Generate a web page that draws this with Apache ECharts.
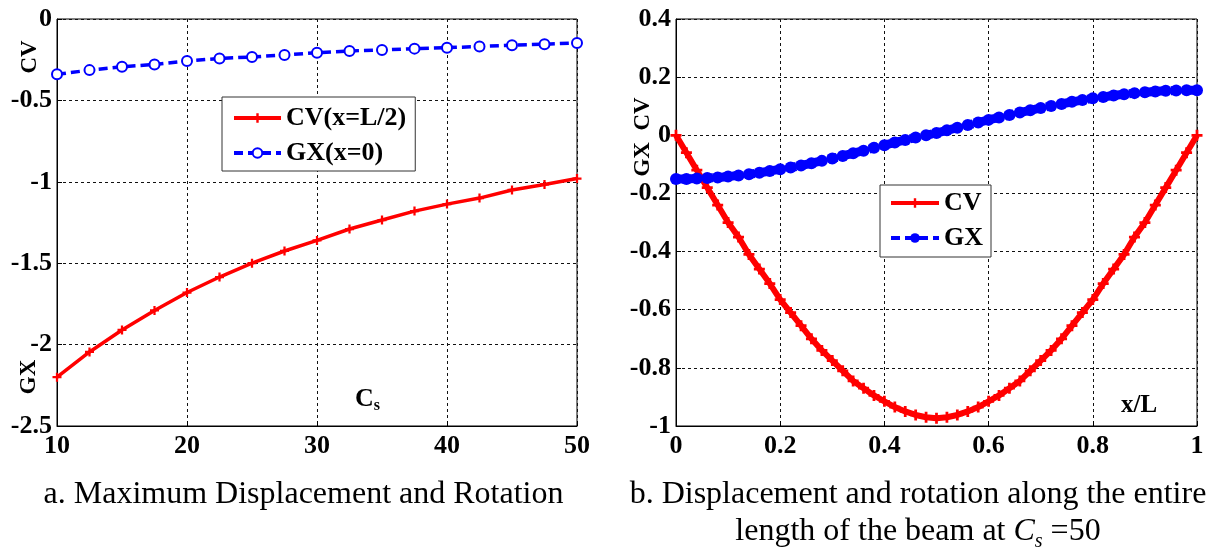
<!DOCTYPE html>
<html>
<head>
<meta charset="utf-8">
<script src="https://cdn.jsdelivr.net/npm/echarts@6/dist/echarts.min.js"></script>
<style>
html,body{margin:0;padding:0;background:#fff;}
#chart{width:1209px;height:558px;}
</style>
</head>
<body>
<div id="chart"></div>
<script>
// ---- Data (left panel: maximum values vs Cs) ----
const csValues = [10,12.5,15,17.5,20,22.5,25,27.5,30,32.5,35,37.5,40,42.5,45,47.5,50];
const cvMax = [-2.20,-2.045,-1.91,-1.79,-1.68,-1.585,-1.50,-1.425,-1.36,-1.29,-1.235,-1.18,-1.137,-1.10,-1.05,-1.016,-0.98];
const gxMax = [-0.34,-0.314,-0.293,-0.279,-0.258,-0.242,-0.233,-0.221,-0.207,-0.196,-0.19,-0.182,-0.176,-0.169,-0.161,-0.155,-0.147];

// ---- Data (right panel: along beam, Cs = 50) ----
const xL = [0,0.02,0.04,0.06,0.08,0.10,0.12,0.14,0.16,0.18,0.20,0.22,0.24,0.26,0.28,0.30,0.32,0.34,0.36,0.38,0.40,0.42,0.44,0.46,0.48,0.50,0.52,0.54,0.56,0.58,0.60,0.62,0.64,0.66,0.68,0.70,0.72,0.74,0.76,0.78,0.80,0.82,0.84,0.86,0.88,0.90,0.92,0.94,0.96,0.98,1.0];
const cvAlong = [0,-0.06,-0.12,-0.18,-0.24,-0.30,-0.35,-0.41,-0.46,-0.51,-0.565,-0.61,-0.655,-0.70,-0.74,-0.775,-0.81,-0.845,-0.87,-0.895,-0.915,-0.935,-0.95,-0.962,-0.97,-0.973,-0.97,-0.962,-0.95,-0.935,-0.915,-0.895,-0.87,-0.845,-0.81,-0.775,-0.74,-0.70,-0.655,-0.61,-0.565,-0.51,-0.46,-0.41,-0.35,-0.30,-0.24,-0.18,-0.12,-0.06,0];
const gxAlong = [-0.150,-0.150,-0.149,-0.147,-0.145,-0.142,-0.138,-0.134,-0.129,-0.123,-0.117,-0.111,-0.104,-0.096,-0.088,-0.080,-0.071,-0.062,-0.053,-0.043,-0.034,-0.025,-0.016,-0.008,0.000,0.008,0.017,0.026,0.035,0.044,0.053,0.061,0.070,0.078,0.086,0.094,0.101,0.108,0.115,0.121,0.127,0.132,0.137,0.141,0.145,0.148,0.151,0.153,0.154,0.155,0.155];

// ---- Text ----
const leftLegend = ['CV(x=L/2)', 'GX(x=0)'];
const rightLegend = ['CV', 'GX'];
const captionA = 'a. Maximum Displacement and Rotation';
const captionB1 = 'b. Displacement and rotation along the entire';

const SERIF = "'Liberation Serif','Times New Roman',serif";
const RED = '#ff0000', BLUE = '#0000ff';
const PLUS = 'path://M3,0H5V3H8V5H5V8H3V5H0V3H3Z';

const zip = (a, b) => a.map((v, i) => [v, b[i]]);

const axisLabel = {color:'#000', fontFamily:SERIF, fontWeight:'bold', fontSize:26};
function xAx(gridIndex, min, max, interval, margin) {
  return {type:'value', gridIndex, min, max, interval,
    axisLine:{show:true, onZero:false, lineStyle:{color:'#000', width:1}},
    axisTick:{show:true, inside:true, length:5, lineStyle:{color:'#000'}},
    axisLabel:Object.assign({margin}, axisLabel),
    splitLine:{show:true, lineStyle:{color:'#111', width:1, type:[3,3]}}};
}
function yAx(gridIndex, min, max, interval) {
  return {type:'value', gridIndex, min, max, interval,
    axisLine:{show:true, onZero:false, lineStyle:{color:'#000', width:1}},
    axisTick:{show:true, inside:true, length:5, lineStyle:{color:'#000'}},
    axisLabel:Object.assign({margin:5}, axisLabel),
    splitLine:{show:true, lineStyle:{color:'#111', width:1, type:[3,3]}}};
}

const chart = echarts.init(document.getElementById('chart'), null, {renderer:'canvas'});
chart.setOption({
  animation:false,
  backgroundColor:'#fff',
  grid:[
    {left:57, top:19, width:520, height:407, show:true, borderColor:'#000', borderWidth:1, backgroundColor:'#fff'},
    {left:676, top:19, width:521, height:407, show:true, borderColor:'#000', borderWidth:1, backgroundColor:'#fff'}
  ],
  xAxis:[xAx(0, 10, 50, 10, 7), xAx(1, 0, 1, 0.2, 7)],
  yAxis:[yAx(0, -2.5, 0, 0.5), yAx(1, -1, 0.4, 0.2)],
  legend:[
    {data:leftLegend, orient:'vertical', left:222, top:97, itemWidth:47, itemHeight:12, itemGap:9,
     padding:[8,9,5,10], backgroundColor:'#fff', borderColor:'#333', borderWidth:1, borderRadius:0,
     lineStyle:{width:4},
     textStyle:{color:'#000', fontFamily:SERIF, fontWeight:'bold', fontSize:26}},
    {data:rightLegend, orient:'vertical', left:880, top:185, itemWidth:48, itemHeight:12, itemGap:9,
     padding:[5,8,6,9], backgroundColor:'#fff', borderColor:'#333', borderWidth:1, borderRadius:0,
     lineStyle:{width:4},
     textStyle:{color:'#000', fontFamily:SERIF, fontWeight:'bold', fontSize:26}}
  ],
  series:[
    {name:leftLegend[0], type:'line', xAxisIndex:0, yAxisIndex:0, data:zip(csValues, cvMax),
     symbol:PLUS, symbolSize:9, showAllSymbol:true,
     lineStyle:{color:RED, width:3.5}, itemStyle:{color:RED}},
    {name:leftLegend[1], type:'line', xAxisIndex:0, yAxisIndex:0, data:zip(csValues, gxMax),
     symbol:'emptyCircle', symbolSize:10, showAllSymbol:true,
     lineStyle:{color:BLUE, width:3.5, type:[9,5]}, itemStyle:{color:BLUE, borderColor:BLUE, borderWidth:3}},
    {name:rightLegend[0], type:'line', xAxisIndex:1, yAxisIndex:1, data:zip(xL, cvAlong),
     symbol:PLUS, symbolSize:11, showAllSymbol:true,
     lineStyle:{color:RED, width:6}, itemStyle:{color:RED}},
    {name:rightLegend[1], type:'line', xAxisIndex:1, yAxisIndex:1, data:zip(xL, gxAlong),
     symbol:'circle', symbolSize:12, showAllSymbol:true,
     lineStyle:{color:BLUE, width:9, type:[9,5]}, itemStyle:{color:BLUE}}
  ],
  graphic:[
    {type:'text', x:30, y:57, rotation:Math.PI/2, style:{text:'CV', font:"bold 23px "+SERIF, fill:'#000', align:'center', verticalAlign:'middle'}},
    {type:'text', x:29, y:377, rotation:Math.PI/2, style:{text:'GX', font:"bold 23px "+SERIF, fill:'#000', align:'center', verticalAlign:'middle'}},
    {type:'text', x:643, y:137, rotation:Math.PI/2, style:{text:'GX  CV', font:"bold 23px "+SERIF, fill:'#000', align:'center', verticalAlign:'middle'}},
    {type:'text', x:355, y:399, style:{
      text:'{c|C}{s|s}', align:'left', verticalAlign:'middle',
      rich:{c:{font:"bold 26px "+SERIF, fill:'#000', lineHeight:30, verticalAlign:'middle'},
            s:{font:"bold 16px "+SERIF, fill:'#000', lineHeight:16, verticalAlign:'bottom'}}}},
    {type:'text', x:1121, y:406, style:{text:'x/L', font:"bold 25px "+SERIF, fill:'#000', align:'left', verticalAlign:'middle'}},
    {type:'text', x:303.5, y:495, style:{text:captionA, font:"32px "+SERIF, fill:'#000', align:'center', verticalAlign:'middle'}},
    {type:'text', x:918, y:495, style:{text:captionB1, font:"32px "+SERIF, fill:'#000', align:'center', verticalAlign:'middle'}},
    {type:'text', x:918, y:532, style:{
      text:'{n|length of the beam at }{i|C}{s|s}{n| =50}', align:'center', verticalAlign:'middle',
      rich:{n:{font:"32px "+SERIF, fill:'#000', lineHeight:40, verticalAlign:'middle'},
            i:{font:"italic 32px "+SERIF, fill:'#000', lineHeight:40, verticalAlign:'middle'},
            s:{font:"italic 20px "+SERIF, fill:'#000', lineHeight:20, verticalAlign:'bottom'}}}}
  ]
});
</script>
</body>
</html>
